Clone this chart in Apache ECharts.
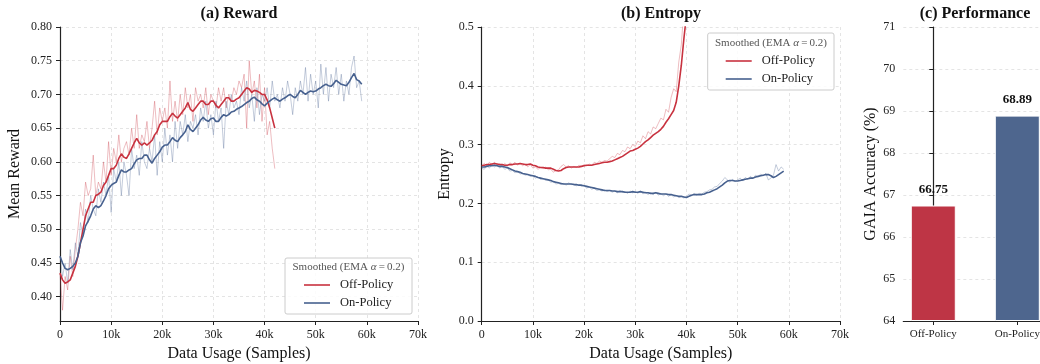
<!DOCTYPE html>
<html>
<head>
<meta charset="utf-8">
<script src="https://cdn.jsdelivr.net/npm/echarts@6/dist/echarts.min.js"></script>
<style>
  html, body { margin: 0; padding: 0; background: #fff; }
  #chart { width: 1040px; height: 364px; }
</style>
</head>
<body>
<div id="chart"></div>
<script>
// step between logged points (samples)
var step = 500;

// (a) reward, raw + smoothed (EMA 0.2)
var offRewardRaw = [0.435,0.38,0.43,0.41,0.46,0.43,0.47,0.50,0.54,0.52,0.57,0.55,0.56,0.61,0.55,0.57,0.56,0.60,0.57,0.63,
  0.58,0.62,0.60,0.64,0.60,0.62,0.63,0.61,0.65,0.62,0.67,0.62,0.64,0.63,0.66,0.62,0.65,0.69,0.64,0.68,
  0.66,0.68,0.65,0.72,0.66,0.69,0.66,0.70,0.67,0.71,0.68,0.70,0.66,0.71,0.69,0.70,0.68,0.71,0.67,0.70,
  0.69,0.68,0.71,0.69,0.71,0.68,0.70,0.69,0.71,0.70,0.72,0.71,0.73,0.65,0.75,0.70,0.72,0.68,0.73,0.66,
  0.71,0.64,0.66,0.62,0.59];
var offRewardEma = [0.435,0.425,0.42,0.422,0.425,0.435,0.445,0.46,0.48,0.50,0.52,0.53,0.54,0.54,0.55,0.552,0.555,0.565,0.57,0.58,
  0.59,0.59,0.595,0.605,0.612,0.607,0.605,0.612,0.62,0.628,0.635,0.628,0.625,0.628,0.625,0.628,0.632,0.64,0.645,0.655,
  0.66,0.66,0.66,0.667,0.672,0.668,0.665,0.67,0.675,0.68,0.688,0.678,0.675,0.68,0.685,0.69,0.69,0.685,0.685,0.69,
  0.69,0.684,0.68,0.685,0.69,0.695,0.695,0.69,0.69,0.693,0.695,0.70,0.705,0.71,0.708,0.703,0.706,0.705,0.703,0.70,
  0.70,0.692,0.68,0.665,0.65];
var onRewardRaw = [0.46,0.43,0.45,0.42,0.47,0.44,0.48,0.46,0.51,0.49,0.53,0.51,0.55,0.53,0.52,0.56,0.54,0.57,0.55,0.58,
  0.525,0.59,0.57,0.60,0.55,0.60,0.58,0.55,0.62,0.59,0.61,0.58,0.63,0.60,0.59,0.62,0.60,0.64,0.58,0.63,
  0.60,0.65,0.61,0.64,0.60,0.66,0.62,0.66,0.64,0.67,0.63,0.66,0.65,0.67,0.64,0.68,0.66,0.69,0.65,0.67,
  0.64,0.69,0.66,0.68,0.62,0.69,0.67,0.70,0.68,0.69,0.67,0.71,0.69,0.72,0.68,0.70,0.66,0.71,0.67,0.70,
  0.69,0.71,0.68,0.72,0.69,0.70,0.68,0.71,0.69,0.72,0.70,0.67,0.71,0.69,0.72,0.70,0.74,0.69,0.73,0.70,
  0.72,0.68,0.745,0.70,0.74,0.69,0.73,0.71,0.74,0.70,0.73,0.69,0.72,0.70,0.74,0.757,0.71,0.72,0.69];
var onRewardEma = [0.46,0.45,0.442,0.44,0.442,0.445,0.45,0.46,0.48,0.49,0.505,0.512,0.52,0.53,0.535,0.532,0.535,0.542,0.55,0.56,
  0.565,0.568,0.57,0.58,0.588,0.585,0.585,0.588,0.59,0.597,0.603,0.605,0.605,0.61,0.61,0.603,0.598,0.605,0.61,0.615,
  0.622,0.625,0.625,0.63,0.636,0.632,0.63,0.636,0.64,0.645,0.655,0.648,0.645,0.65,0.655,0.662,0.666,0.662,0.66,0.664,
  0.665,0.66,0.66,0.666,0.67,0.668,0.67,0.674,0.675,0.678,0.68,0.682,0.685,0.688,0.69,0.694,0.696,0.692,0.69,0.686,
  0.683,0.687,0.69,0.693,0.695,0.692,0.69,0.693,0.695,0.698,0.70,0.697,0.695,0.70,0.706,0.703,0.70,0.703,0.705,0.704,
  0.705,0.708,0.71,0.713,0.715,0.713,0.712,0.716,0.721,0.718,0.715,0.714,0.713,0.718,0.725,0.731,0.722,0.72,0.715];

// (b) entropy
var offEntropyRaw = [0.264,0.268,0.264,0.27,0.266,0.27,0.265,0.267,0.263,0.268,0.264,0.269,0.266,0.27,0.265,0.268,0.264,0.267,0.262,0.266,
  0.26,0.262,0.258,0.261,0.259,0.262,0.257,0.258,0.253,0.256,0.257,0.263,0.266,0.262,0.264,0.26,0.263,0.261,0.265,0.263,
  0.266,0.264,0.267,0.265,0.27,0.268,0.272,0.27,0.273,0.272,0.276,0.28,0.278,0.285,0.283,0.29,0.288,0.296,0.293,0.30,
  0.297,0.306,0.303,0.315,0.31,0.322,0.318,0.33,0.327,0.336,0.345,0.342,0.36,0.355,0.38,0.395,0.39,0.44,0.47,0.53,
  0.58,0.62,0.66,0.70,0.74];
var offEntropyEma = [0.264,0.265,0.266,0.266,0.267,0.268,0.267,0.266,0.266,0.265,0.265,0.266,0.266,0.267,0.267,0.268,0.267,0.266,0.266,0.267,
  0.265,0.264,0.262,0.261,0.261,0.26,0.26,0.26,0.258,0.256,0.255,0.256,0.259,0.261,0.262,0.262,0.262,0.262,0.262,0.263,
  0.264,0.265,0.265,0.265,0.266,0.267,0.268,0.269,0.27,0.27,0.271,0.272,0.274,0.276,0.278,0.28,0.283,0.286,0.289,0.29,
  0.292,0.294,0.297,0.301,0.305,0.308,0.312,0.316,0.319,0.322,0.326,0.331,0.338,0.344,0.351,0.358,0.372,0.40,0.435,0.48,
  0.52,0.56,0.60,0.64,0.68];
var onEntropyRaw = [0.26,0.258,0.264,0.26,0.266,0.262,0.265,0.26,0.263,0.258,0.26,0.255,0.256,0.252,0.254,0.25,0.251,0.248,0.249,0.246,
  0.247,0.243,0.245,0.241,0.242,0.239,0.24,0.236,0.237,0.233,0.234,0.232,0.234,0.231,0.235,0.232,0.233,0.23,0.232,0.229,
  0.23,0.226,0.228,0.224,0.226,0.222,0.223,0.221,0.223,0.22,0.222,0.219,0.221,0.218,0.222,0.219,0.22,0.217,0.221,0.218,
  0.22,0.217,0.221,0.216,0.219,0.215,0.218,0.215,0.219,0.214,0.217,0.213,0.216,0.212,0.215,0.211,0.213,0.21,0.212,0.209,
  0.212,0.216,0.214,0.217,0.214,0.217,0.216,0.219,0.22,0.223,0.224,0.228,0.229,0.234,0.238,0.244,0.24,0.236,0.241,0.237,
  0.24,0.243,0.238,0.244,0.241,0.246,0.242,0.248,0.245,0.25,0.247,0.251,0.24,0.243,0.248,0.266,0.255,0.262,0.258];
var onEntropyEma = [0.262,0.262,0.263,0.264,0.264,0.265,0.264,0.263,0.263,0.262,0.261,0.259,0.257,0.255,0.254,0.253,0.251,0.25,0.249,0.248,
  0.247,0.246,0.244,0.243,0.242,0.241,0.24,0.239,0.237,0.236,0.235,0.234,0.233,0.233,0.233,0.233,0.232,0.232,0.231,0.231,
  0.23,0.229,0.228,0.227,0.226,0.225,0.224,0.223,0.222,0.222,0.222,0.221,0.221,0.22,0.22,0.22,0.219,0.219,0.219,0.22,
  0.219,0.219,0.22,0.219,0.218,0.218,0.217,0.217,0.218,0.217,0.216,0.216,0.216,0.215,0.215,0.214,0.213,0.212,0.212,0.211,
  0.21,0.212,0.214,0.215,0.215,0.215,0.215,0.216,0.218,0.219,0.221,0.223,0.225,0.228,0.231,0.235,0.238,0.239,0.239,0.238,
  0.238,0.239,0.24,0.241,0.242,0.243,0.243,0.245,0.246,0.247,0.248,0.249,0.249,0.247,0.244,0.246,0.249,0.252,0.255];

// (c) performance
var perfCategories = ['Off-Policy', 'On-Policy'];
var perfValues = [66.75, 68.89];

// tick labels
var rewardTicks = [0.40, 0.45, 0.50, 0.55, 0.60, 0.65, 0.70, 0.75, 0.80];
var sampleTicks = [0, 10000, 20000, 30000, 40000, 50000, 60000, 70000];

var RED = '#C8323F', BLUE = '#47618F';
var RED_BAR = '#BE3545', BLUE_BAR = '#4E668E';
var FONT = "'Liberation Serif', 'Times New Roman', serif";

function pairs(arr) {
  return arr.map(function (v, i) { return [i * step, v]; });
}
function kFmt(v) { return v === 0 ? '0' : (v / 1000) + 'k'; }

var myChart = echarts.init(document.getElementById('chart'), null, { renderer: 'canvas' });

var axisLine = { show: true, lineStyle: { color: '#222', width: 1.2 } };
var axisTick = { show: true, inside: false, length: 4, lineStyle: { color: '#222', width: 1 } };
var splitLine = { show: true, lineStyle: { color: '#dedede', type: [3, 3], width: 0.8 } };
var labelStyle = { color: '#222', fontSize: 12, fontFamily: FONT, margin: 8 };
var nameStyle = { color: '#111', fontSize: 16, fontFamily: FONT };

function sampleAxis(idx) {
  return {
    type: 'value', gridIndex: idx, min: 0, max: 70000, interval: 10000,
    name: 'Data Usage (Samples)', nameLocation: 'middle', nameGap: 24, nameTextStyle: nameStyle,
    axisLine: axisLine, axisTick: axisTick, splitLine: splitLine,
    axisLabel: Object.assign({ formatter: kFmt }, labelStyle)
  };
}

function rawLine(name, data, color, xi) {
  return {
    name: name, type: 'line', xAxisIndex: xi, yAxisIndex: xi, data: pairs(data),
    showSymbol: false, symbol: 'none', silent: true, z: 2,
    lineStyle: { color: color, width: 1, opacity: 0.32 }, itemStyle: { color: color }
  };
}
function emaLine(name, data, color, xi) {
  return {
    name: name, type: 'line', xAxisIndex: xi, yAxisIndex: xi, data: pairs(data),
    showSymbol: false, symbol: 'none', z: 3,
    lineStyle: { color: color, width: 1.6 }, itemStyle: { color: color }
  };
}

function legendBox(x, y, w, h) {
  return {
    type: 'rect', z: 10,
    shape: { x: x, y: y, width: w, height: h, r: 2 },
    style: { fill: 'rgba(255,255,255,0.85)', stroke: '#cccccc', lineWidth: 1 }
  };
}
function legendTitle(x, y) {
  return {
    type: 'text', z: 11, x: x, y: y,
    style: {
      text: '{n|Smoothed (EMA }{i|α}{n|\u2009=\u20090.2)}',
      align: 'center', verticalAlign: 'middle',
      rich: {
        n: { fontSize: 11, fontFamily: FONT, fill: '#555' },
        i: { fontSize: 11, fontFamily: FONT, fill: '#555', fontStyle: 'italic' }
      }
    }
  };
}
function title(text, x) {
  return {
    type: 'text', x: x, y: 6,
    style: { text: text, fontSize: 16, fontWeight: 'bold', fontFamily: FONT, fill: '#111', align: 'center', verticalAlign: 'top' }
  };
}
function legendItems(left, top) {
  return {
    data: ['Off-Policy', 'On-Policy'], orient: 'vertical', left: left, top: top, padding: 0,
    icon: 'rect', itemWidth: 26, itemHeight: 1.6, itemGap: 4, z: 12,
    selectedMode: false,
    textStyle: { fontSize: 12.5, fontFamily: FONT, color: '#222', lineHeight: 14, padding: [0, 0, 0, 5] }
  };
}

option = {
  animation: false,
  backgroundColor: '#fff',
  textStyle: { fontFamily: FONT },
  grid: [
    { left: 60, top: 27, width: 358, height: 294, outerBoundsMode: 'none' },
    { left: 481.7, top: 27, width: 358.3, height: 294, outerBoundsMode: 'none' },
    { left: 903.3, top: 27, width: 144, height: 294, outerBoundsMode: 'none' }
  ],
  xAxis: [
    sampleAxis(0),
    sampleAxis(1),
    {
      type: 'value', gridIndex: 2, min: -0.357, max: 1.357,
      axisLine: axisLine,
      axisTick: Object.assign({ customValues: [0, 1] }, axisTick),
      splitLine: { show: false },
      axisLabel: Object.assign({}, labelStyle, {
        fontSize: 11, customValues: [0, 1],
        formatter: function (v) { return perfCategories[Math.round(v)]; }
      })
    }
  ],
  yAxis: [
    {
      type: 'value', gridIndex: 0, min: 0.364, max: 0.80,
      name: 'Mean Reward', nameLocation: 'middle', nameGap: 37, nameTextStyle: nameStyle,
      axisLine: axisLine,
      axisTick: Object.assign({ customValues: rewardTicks }, axisTick),
      splitLine: splitLine,
      axisLabel: Object.assign({}, labelStyle, {
        customValues: rewardTicks,
        formatter: function (v) { return v.toFixed(2); }
      })
    },
    {
      type: 'value', gridIndex: 1, min: 0, max: 0.5, interval: 0.1,
      name: 'Entropy', nameLocation: 'middle', nameGap: 29, nameTextStyle: nameStyle,
      axisLine: axisLine, axisTick: axisTick, splitLine: splitLine,
      axisLabel: Object.assign({}, labelStyle, { formatter: function (v) { return v.toFixed(1); } })
    },
    {
      type: 'value', gridIndex: 2, min: 64, max: 71, interval: 1, startValue: 64,
      name: 'GAIA Accuracy (%)', nameLocation: 'middle', nameGap: 25, nameTextStyle: nameStyle,
      axisLine: axisLine, axisTick: axisTick, splitLine: splitLine,
      axisLabel: labelStyle
    }
  ],
  legend: [legendItems(304, 278), legendItems(725.7, 54)],
  graphic: [
    title('(a) Reward', 239),
    title('(b) Entropy', 661),
    title('(c) Performance', 975),
    legendBox(285, 258, 127, 56),
    legendTitle(348.5, 267),
    legendBox(707.7, 33, 126.3, 57),
    legendTitle(771, 43)
  ],
  series: [
    rawLine('Off-Policy raw', offRewardRaw, RED, 0),
    emaLine('Off-Policy', offRewardEma, RED, 0),
    rawLine('On-Policy raw', onRewardRaw, BLUE, 0),
    emaLine('On-Policy', onRewardEma, BLUE, 0),
    rawLine('Off-Policy raw', offEntropyRaw, RED, 1),
    emaLine('Off-Policy', offEntropyEma, RED, 1),
    rawLine('On-Policy raw', onEntropyRaw, BLUE, 1),
    emaLine('On-Policy', onEntropyEma, BLUE, 1),
    {
      name: 'GAIA', type: 'bar', xAxisIndex: 2, yAxisIndex: 2, barWidth: 45, clip: true,
      data: [
        { value: [0, perfValues[0]], itemStyle: { color: RED_BAR } },
        { value: [1, perfValues[1]], itemStyle: { color: BLUE_BAR } }
      ],
      itemStyle: { borderColor: '#fff', borderWidth: 1 },
      label: {
        show: true, position: 'top', distance: 9,
        fontSize: 13, fontWeight: 'bold', fontFamily: FONT, color: '#111',
        formatter: function (p) { return p.value[1].toFixed(2); }
      }
    }
  ]
};
myChart.setOption(option);
</script>
</body>
</html>
